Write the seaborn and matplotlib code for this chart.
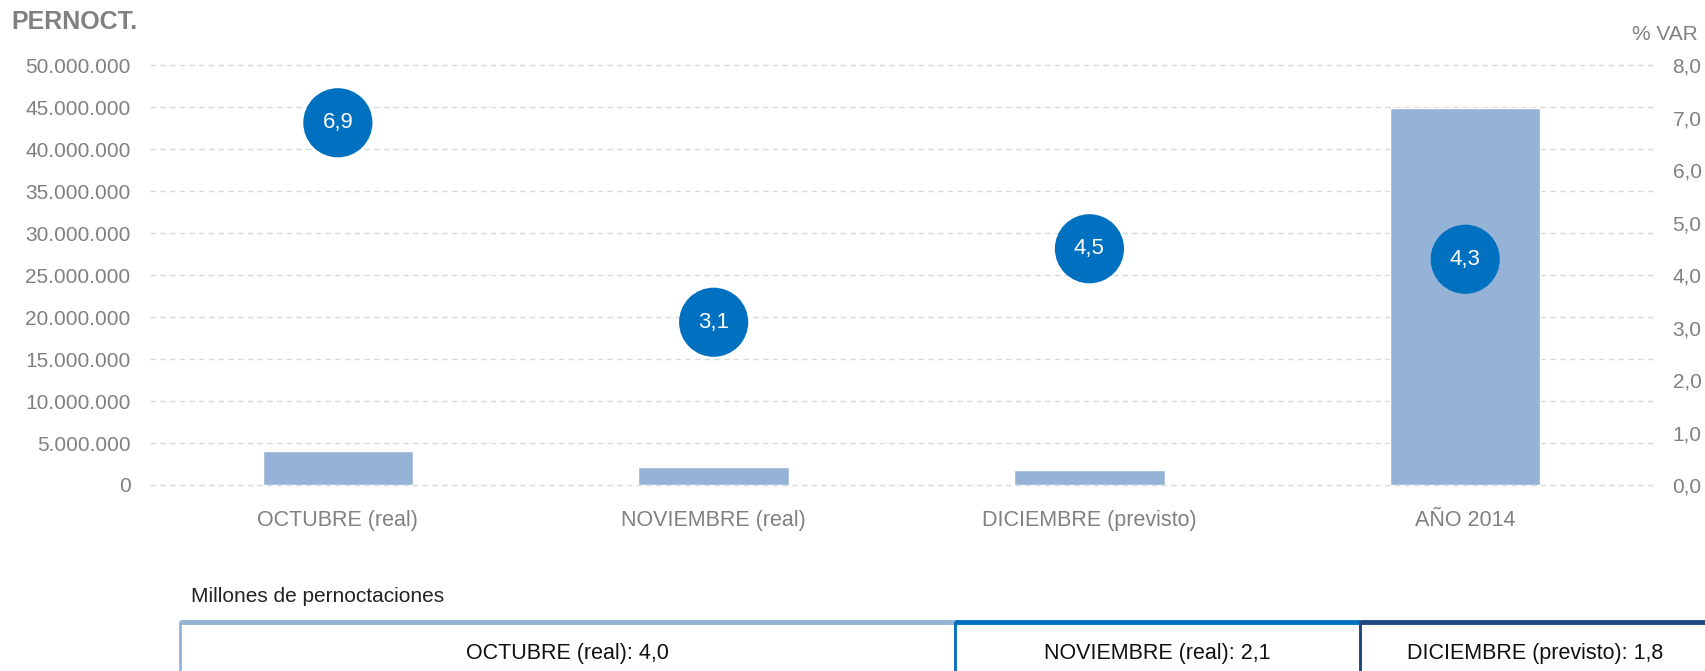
import numpy as np
import matplotlib
matplotlib.use('Agg')
import matplotlib.pyplot as plt
import seaborn as sns
from matplotlib.lines import Line2D

categorias = ['OCTUBRE (real)', 'NOVIEMBRE (real)', 'DICIEMBRE (previsto)', 'AÑO 2014']
pernoctaciones = [4.0e6, 2.1e6, 1.8e6, 44.9e6]
variacion = [6.9, 3.1, 4.5, 4.3]
tabla_textos = ['OCTUBRE (real): 4,0', 'NOVIEMBRE (real): 2,1', 'DICIEMBRE (previsto): 1,8']

sns.set_theme(style='white')
plt.rcParams['font.family'] = ['Liberation Sans', 'DejaVu Sans']

gris = '#808080'
azul_barra = '#95B3D7'
azul_circulo = '#0070C0'

fig = plt.figure(figsize=(17.06, 6.71), dpi=100)
ax = fig.add_axes([0.0879, 0.2772, 0.969 - 0.0879, 0.9031 - 0.2772])

sns.barplot(x=categorias, y=pernoctaciones, color=azul_barra, saturation=1,
            width=0.4, ax=ax, zorder=2)
ax.set_xlim(-0.5, 3.5)
ax.set_ylim(0, 50e6)
yt = np.arange(0, 50e6 + 1, 5e6)
ax.set_yticks(yt)
ax.set_yticklabels([f'{int(v):,}'.replace(',', '.') for v in yt], color=gris, fontsize=15)
ax.tick_params(axis='x', colors=gris, labelsize=15.5, pad=18, length=0)
ax.tick_params(axis='y', pad=14, length=0)
ax.grid(axis='y', color='#D9D9D9', linestyle=(0, (4, 3)), linewidth=1)
for gl in ax.get_ygridlines():
    gl.set_clip_on(False)
ax.set_axisbelow(True)
for s in ax.spines.values():
    s.set_visible(False)

ax2 = ax.twinx()
pos = np.arange(len(categorias))
sns.scatterplot(x=pos, y=variacion, ax=ax2, s=2480, color=azul_circulo,
                edgecolor='none', zorder=3, legend=False)
for x, v in zip(pos, variacion):
    ax2.text(x, v, f'{v:.1f}'.replace('.', ','), color='white', fontsize=16,
             ha='center', va='center', zorder=4)
ax2.set_ylim(0, 8)
rt = np.arange(0, 8.1, 1)
ax2.set_yticks(rt)
ax2.set_yticklabels([f'{v:.1f}'.replace('.', ',') for v in rt], color=gris, fontsize=15)
ax2.tick_params(axis='y', pad=14, length=0)
ax2.grid(False)
for s in ax2.spines.values():
    s.set_visible(False)

fig.text(11 / 1706, 1 - 22 / 671, 'PERNOCT.', color=gris, fontsize=18,
         fontweight='bold', ha='left', va='center')
fig.text(1698 / 1706, 1 - 35 / 671, '% VAR', color=gris, fontsize=15,
         ha='right', va='center')

# tabla inferior
fig.text(191 / 1706, 1 - 597 / 671, 'Millones de pernoctaciones', color='#222222',
         fontsize=15, ha='left', va='center')
bordes = [180, 955, 1360, 1710]
colores = [azul_barra, azul_circulo, '#1F497D']
W, H = 1706, 671
top = 1 - 622 / H
for i, txt in enumerate(tabla_textos):
    x0, x1 = bordes[i] / W, bordes[i + 1] / W
    fig.add_artist(Line2D([x0, x0], [top, -0.05], color=colores[i], linewidth=2,
                          transform=fig.transFigure))
    if i < 2:
        fig.add_artist(Line2D([x1, x1], [top, -0.05], color=colores[i], linewidth=2,
                              transform=fig.transFigure))
    fig.add_artist(Line2D([x0, x1], [top, top], color=colores[i], linewidth=3.5,
                          transform=fig.transFigure, solid_capstyle='butt'))
    fig.text((x0 + x1) / 2, 1 - 653 / H, txt, color='#111111', fontsize=15.5,
             ha='center', va='center')

fig.savefig('out.png', dpi=100)
